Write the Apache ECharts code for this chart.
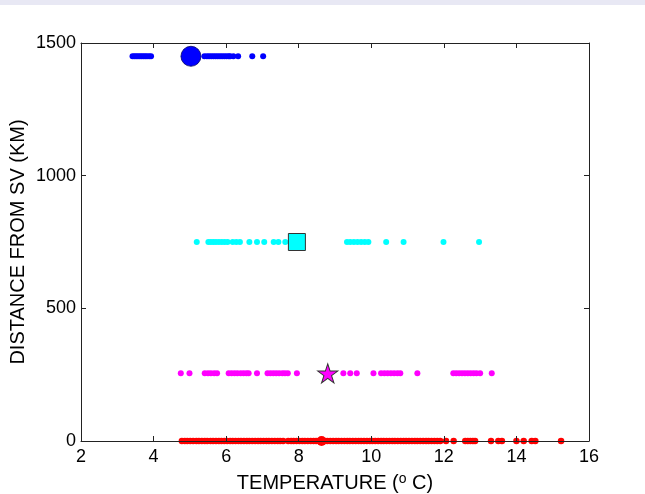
<!DOCTYPE html>
<html>
<head>
<meta charset="utf-8">
<script src="https://cdn.jsdelivr.net/npm/echarts@6/dist/echarts.min.js"></script>
<style>
html,body{margin:0;padding:0;background:#fff;}
#chart{width:645px;height:494px;}
</style>
</head>
<body>
<div id="chart"></div>
<script>
// Distances (km) of each group
var distances = { blue: 1450, cyan: 750, magenta: 255, red: 0 };

// Temperatures (deg C) of individual observations
var blueTemps = [3.42,3.47,3.52,3.57,3.62,3.67,3.72,3.77,3.82,3.88,3.93,
  5.40,5.47,5.53,5.59,5.65,5.71,5.77,5.83,5.89,5.95,6.01,6.07,6.11,6.20,6.33,6.72,7.02];
var cyanTemps = [5.19,5.51,5.58,5.65,5.72,5.80,5.88,5.96,6.04,6.18,6.28,6.38,
  6.64,6.85,7.05,7.31,7.44,7.63,9.33,9.42,9.52,9.62,9.72,9.82,9.92,10.41,10.89,11.99,12.97];
var magentaTemps = [4.75,4.99,5.41,5.50,5.58,5.67,5.75,6.07,6.15,6.23,6.31,6.40,6.48,6.56,6.62,
  6.85,7.14,7.22,7.30,7.38,7.46,7.55,7.62,7.70,7.95,9.23,9.42,9.60,10.06,
  10.27,10.36,10.45,10.54,10.63,10.72,10.80,11.27,
  12.26,12.34,12.42,12.50,12.58,12.66,12.74,12.82,12.90,13.00,13.32];
var redTemps = [4.78,4.86,4.93,5.01,5.09,5.18,5.25,5.33,5.41,5.48,5.57,5.64,5.72,5.80,5.87,5.95,
  6.03,6.11,6.18,6.26,6.34,6.41,6.49,6.57,6.64,6.72,6.80,6.88,6.95,7.03,7.11,7.18,7.26,7.34,7.42,7.49,7.57,
  7.71,7.79,7.86,7.94,8.02,8.10,8.17,8.25,8.33,8.41,8.48,8.56,8.64,8.72,8.79,8.87,8.95,
  9.03,9.10,9.18,9.26,9.34,9.41,9.49,9.57,9.65,9.72,9.80,9.88,9.96,10.03,10.11,10.19,10.27,10.34,
  10.42,10.50,10.58,10.65,10.73,10.81,10.89,10.96,11.04,11.12,11.20,11.27,11.35,11.43,11.51,11.58,
  11.66,11.74,11.82,11.90,12.06,12.27,12.59,12.66,12.73,12.80,12.86,13.30,13.50,13.60,14.00,14.20,
  14.42,14.52,15.23];

// Group means (large markers)
var meanTemps = { blue: 5.03, cyan: 7.95, magenta: 8.80, red: 8.63 };

var xTicks = [2,4,6,8,10,12,14,16];
var yTicks = [0,500,1000,1500];

function pts(temps, d) { return temps.map(function (t) { return [t, d]; }); }

var starPath = 'path://M50 0 L61.23 34.55 L97.55 34.55 L68.17 55.9 L79.39 90.45 L50 69.1 L20.61 90.45 L31.83 55.9 L2.45 34.55 L38.77 34.55 Z';

var chart = echarts.init(document.getElementById('chart'), null, { renderer: 'canvas' });
var font = 'Liberation Sans, Arial, Helvetica, sans-serif';
var axisColor = '#222';

function baseAxis(extra) {
  var o = {
    axisLine: { show: true, onZero: false, lineStyle: { color: axisColor, width: 1 } },
    axisTick: { show: true, inside: true, length: 5, lineStyle: { color: axisColor } },
    splitLine: { show: false },
    z: 5
  };
  for (var k in extra) o[k] = extra[k];
  return o;
}

chart.setOption({
  animation: false,
  backgroundColor: '#fff',
  graphic: [{
    type: 'rect', left: 0, top: 0, shape: { width: 645, height: 5 },
    style: { fill: '#e8e8f4' }, z: -1
  }],
  grid: { left: 81, right: 56, top: 43, bottom: 53, containLabel: false, outerBoundsMode: 'none' },
  xAxis: [
    baseAxis({
      type: 'value', min: xTicks[0], max: xTicks[xTicks.length - 1], interval: 2, position: 'bottom',
      axisLabel: { color: '#000', fontFamily: font, fontSize: 18, margin: 7, formatter: function (v) { return String(v); } },
      name: 'TEMPERATURE ({s|o} C)', nameLocation: 'middle', nameGap: 31,
      nameTextStyle: { color: '#000', fontFamily: font, fontSize: 20,
        rich: { s: { fontSize: 14, fontFamily: font, color: '#000', verticalAlign: 'top', padding: [0, 0, 8, 0] } } }
    }),
    baseAxis({
      type: 'value', min: xTicks[0], max: xTicks[xTicks.length - 1], interval: 2, position: 'top',
      axisLabel: { show: false }
    })
  ],
  yAxis: [
    baseAxis({
      type: 'value', min: yTicks[0], max: yTicks[yTicks.length - 1], interval: 500, position: 'left',
      axisLabel: { color: '#000', fontFamily: font, fontSize: 18, margin: 5, formatter: function (v) { return String(v); } },
      name: 'DISTANCE FROM SV (KM)', nameLocation: 'middle', nameGap: 53, nameMoveOverlap: false,
      nameTextStyle: { color: '#000', fontFamily: font, fontSize: 20 }
    }),
    baseAxis({
      type: 'value', min: yTicks[0], max: yTicks[yTicks.length - 1], interval: 500, position: 'right',
      axisLabel: { show: false }
    })
  ],
  series: [
    { type: 'scatter', data: pts(redTemps, distances.red), symbol: 'circle', symbolSize: 6.5,
      itemStyle: { color: '#ff0000', opacity: 1 }, z: 2 },
    { type: 'scatter', data: pts(magentaTemps, distances.magenta), symbol: 'circle', symbolSize: 6,
      itemStyle: { color: '#ff00ff', opacity: 1 }, z: 2 },
    { type: 'scatter', data: pts(cyanTemps, distances.cyan), symbol: 'circle', symbolSize: 6,
      itemStyle: { color: '#00ffff', opacity: 1 }, z: 2 },
    { type: 'scatter', data: pts(blueTemps, distances.blue), symbol: 'circle', symbolSize: 6,
      itemStyle: { color: '#0000ff', opacity: 1 }, z: 2 },
    { type: 'scatter', data: [[meanTemps.blue, distances.blue]], symbol: 'circle', symbolSize: 20,
      itemStyle: { color: '#0000ff', borderColor: '#000066', borderWidth: 0.8, opacity: 1 }, z: 3 },
    { type: 'scatter', data: [[meanTemps.cyan, distances.cyan]], symbol: 'rect', symbolSize: 17,
      itemStyle: { color: '#00ffff', borderColor: '#333', borderWidth: 1, opacity: 1 }, z: 3 },
    { type: 'scatter', data: [[meanTemps.magenta, distances.magenta]], symbol: starPath, symbolSize: [20, 19],
      itemStyle: { color: '#ff00ff', borderColor: '#333', borderWidth: 1, opacity: 1 }, z: 3 },
    { type: 'scatter', data: [[meanTemps.red, distances.red]], symbol: 'circle', symbolSize: 10,
      itemStyle: { color: '#ff0000', opacity: 1 }, z: 3 }
  ]
});
</script>
</body>
</html>
